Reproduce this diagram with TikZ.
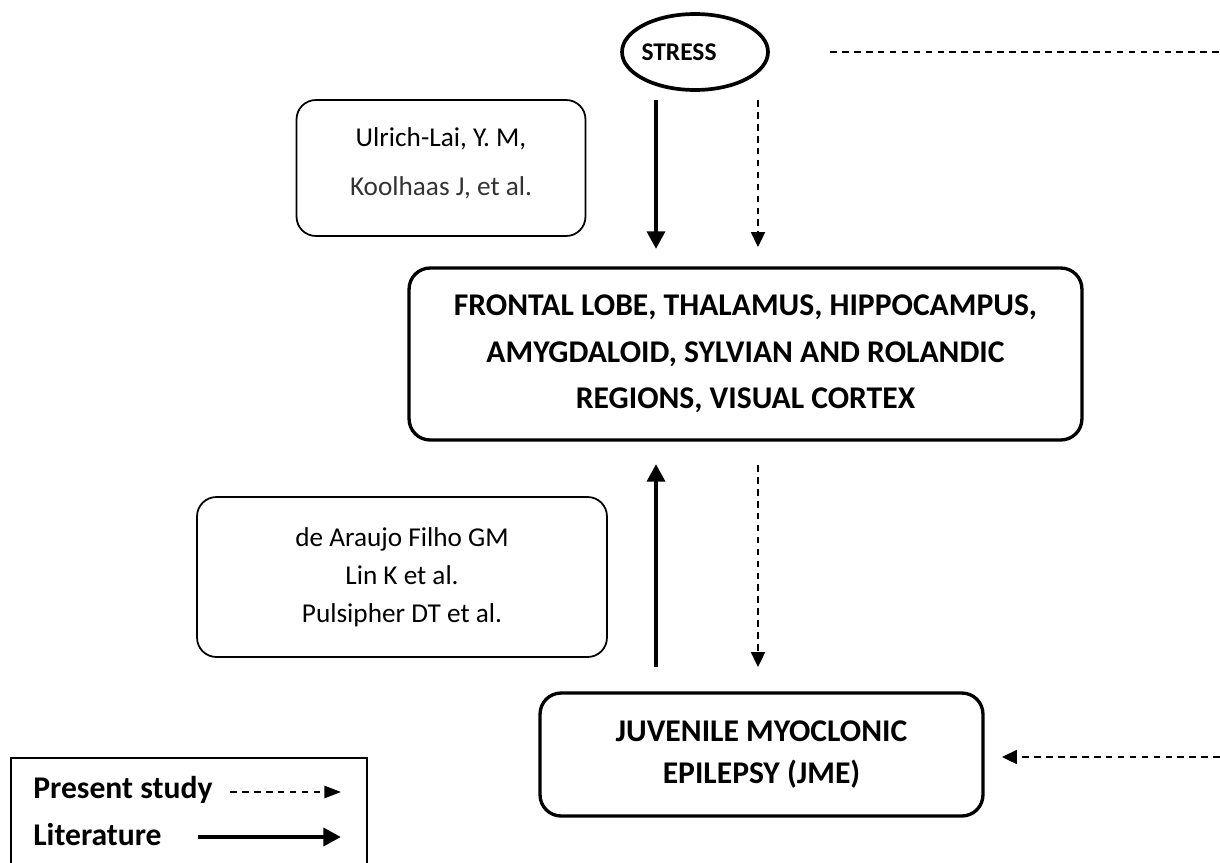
\documentclass[tikz,border=0pt]{standalone}
\usepackage{fontspec}
\setmainfont{Carlito}
\usetikzlibrary{arrows.meta,shapes.geometric}
\begin{document}
\begin{tikzpicture}[x=0.02cm,y=-0.02cm,
  thickbox/.style={draw,line width=1.9pt,rounded corners=12pt,align=center,inner sep=0pt},
  thinbox/.style={draw,line width=1pt,rounded corners=11pt,align=center,inner sep=0pt},
  lit/.style={line width=2.7pt,-{Triangle[length=10pt,width=10pt]}},
  pres/.style={line width=1.1pt,dash pattern=on 3.8pt off 3pt,-{Triangle[length=8.5pt,width=8pt]}},
  legpres/.style={line width=1.1pt,dash pattern=on 3.8pt off 3pt,-{Triangle[length=9.5pt,width=7pt]}},
  presline/.style={line width=1.1pt,dash pattern=on 3.8pt off 3pt},
  bigtxt/.style={font=\fontsize{18}{26.5}\selectfont\bfseries},
  citetxt/.style={font=\fontsize{15.5}{28}\selectfont,align=center,inner sep=0pt}]
\useasboundingbox (0,0) rectangle (1220,862);
\fill[white] (0,0) rectangle (1220,862);

% stress
\node[ellipse,draw,line width=2.1pt,minimum width=2.92cm,minimum height=1.52cm,inner sep=0pt] (stress) at (695,52) {};
\node[font=\fontsize{14.5}{16}\selectfont\bfseries,inner sep=0pt] (stresstext) at (679,52) {STRESS};
\coordinate (topl) at (830,52);
\coordinate (topr) at (1220,52);
\draw[presline] (topl) -- (topr);

% citation boxes
\node[thinbox,minimum width=5.78cm,minimum height=2.72cm] (ulrich) at (441,168) {};
\node[citetxt] (ulrichtext) at (441,163)
  {Ulrich-Lai, Y. M,\\ \textcolor{black!80}{Koolhaas J, et al.}};

\node[thinbox,minimum width=8.2cm,minimum height=3.2cm,
  font=\fontsize{15.5}{21.5}\selectfont] (araujo) at (402,577)
  {de Araujo Filho GM\\ Lin K et al.\\ Pulsipher DT et al.};

% main boxes
\node[thickbox,minimum width=13.46cm,minimum height=3.44cm,bigtxt] (brain) at (745.5,354)
  {FRONTAL LOBE, THALAMUS, HIPPOCAMPUS,\\ AMYGDALOID, SYLVIAN AND ROLANDIC\\ REGIONS, VISUAL CORTEX};

\node[thickbox,minimum width=8.86cm,minimum height=2.46cm,
  font=\fontsize{18}{23.5}\selectfont\bfseries] (jme) at (761.5,754.5)
  {JUVENILE MYOCLONIC\\ EPILEPSY (JME)};

% arrows stress -> brain
\coordinate (a1s) at (656,100);
\coordinate (a1e) at (656,249);
\coordinate (a2s) at (758,100);
\coordinate (a2e) at (758,247);
\draw[lit] (a1s) -- (a1e);
\draw[pres] (a2s) -- (a2e);

% arrows between jme and brain
\coordinate (b1s) at (656,667);
\coordinate (b1e) at (656,464);
\coordinate (b2s) at (758,465);
\coordinate (b2e) at (758,667);
\draw[lit] (b1s) -- (b1e);
\draw[pres] (b2s) -- (b2e);

% right dashed arrow towards jme
\coordinate (rs) at (1220,757);
\coordinate (re) at (1002,757);
\draw[pres] (rs) -- (re);

% legend
\node[draw,line width=1pt,minimum width=7.12cm,minimum height=2.6cm,inner sep=0pt,anchor=north west] (legend) at (10,757) {};
\node[anchor=base west,font=\fontsize{18}{20}\selectfont\bfseries,inner sep=0pt] (lp) at (33,798) {Present study};
\node[anchor=base west,font=\fontsize{18}{20}\selectfont\bfseries,inner sep=0pt] (ll) at (33,845) {Literature};
\coordinate (lps) at (230,792);
\coordinate (lpe) at (341,792);
\coordinate (lls) at (198,837);
\coordinate (lle) at (341,837);
\draw[legpres] (lps) -- (lpe);
\draw[lit] (lls) -- (lle);
\end{tikzpicture}
\end{document}
